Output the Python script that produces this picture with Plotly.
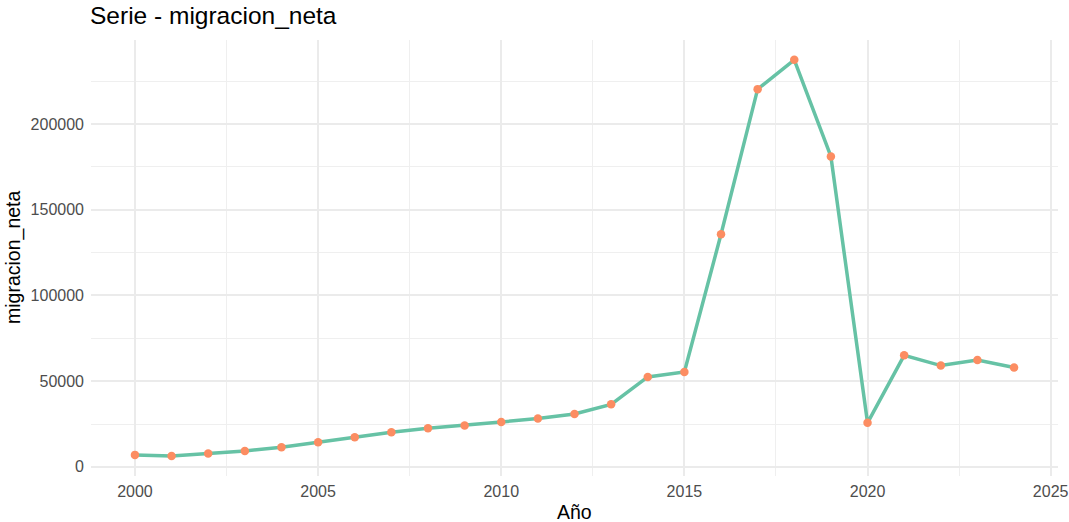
import plotly.graph_objects as go

years = list(range(2000, 2025))
migracion_neta = [7000, 6300, 7800, 9300, 11500, 14400, 17300, 20200, 22500, 24200,
                  26200, 28200, 30900, 36500, 52500, 55400, 135700, 220400, 237500,
                  181100, 25700, 65100, 59100, 62400, 58000]

x_ticks = [2000, 2005, 2010, 2015, 2020, 2025]
y_ticks = [0, 50000, 100000, 150000, 200000]

fig = go.Figure()
fig.add_trace(go.Scatter(x=years, y=migracion_neta, mode="lines",
                         line=dict(color="#66C2A5", width=3.5), hoverinfo="skip",
                         showlegend=False))
fig.add_trace(go.Scatter(x=years, y=migracion_neta, mode="markers",
                         marker=dict(color="#FC8D62", size=8.5), showlegend=False))

font = "Liberation Sans, Arial, sans-serif"
fig.update_layout(
    width=1069, height=522,
    margin=dict(l=91, r=11, t=40, b=46),
    plot_bgcolor="white", paper_bgcolor="white",
    font=dict(family=font, color="#4D4D4D", size=16),
    title=dict(text="Serie - migracion_neta", x=90/1069, xanchor="left",
               y=1 - 15/522, yanchor="middle",
               font=dict(size=24.5, color="black", family=font)),
    annotations=[
        dict(text="Año", xref="paper", yref="paper", x=0.5, y=0,
             xanchor="center", yanchor="middle", yshift=-36, showarrow=False,
             font=dict(size=19.5, color="black", family=font)),
        dict(text="migracion_neta", xref="paper", yref="paper", x=0, y=0.5,
             xanchor="center", yanchor="middle", xshift=-78, textangle=-90,
             showarrow=False, font=dict(size=19.5, color="black", family=font)),
    ],
)
fig.update_xaxes(range=[1998.8, 2025.2], tickvals=x_ticks,
                 ticktext=[str(v) for v in x_ticks], automargin=False,
                 showgrid=True, gridcolor="#EBEBEB", gridwidth=1.6,
                 minor=dict(tickvals=[2002.5, 2007.5, 2012.5, 2017.5, 2022.5],
                            showgrid=True, gridcolor="#EFEFEF", gridwidth=1),
                 zeroline=False, showline=False, ticks="", ticklabelstandoff=4,
                 tickfont=dict(size=16, color="#4D4D4D"))
fig.update_yaxes(range=[-5323, 249063], tickvals=y_ticks,
                 ticktext=[str(v) for v in y_ticks], automargin=False,
                 showgrid=True, gridcolor="#EBEBEB", gridwidth=1.6,
                 minor=dict(tickvals=[25000, 75000, 125000, 175000, 225000],
                            showgrid=True, gridcolor="#EFEFEF", gridwidth=1),
                 zeroline=False, showline=False, ticks="", ticklabelstandoff=6,
                 tickfont=dict(size=16, color="#4D4D4D"))

fig.write_html("out.html", config={"displayModeBar": False},
               post_script="document.body.style.margin='0';document.body.style.overflow='hidden';")
